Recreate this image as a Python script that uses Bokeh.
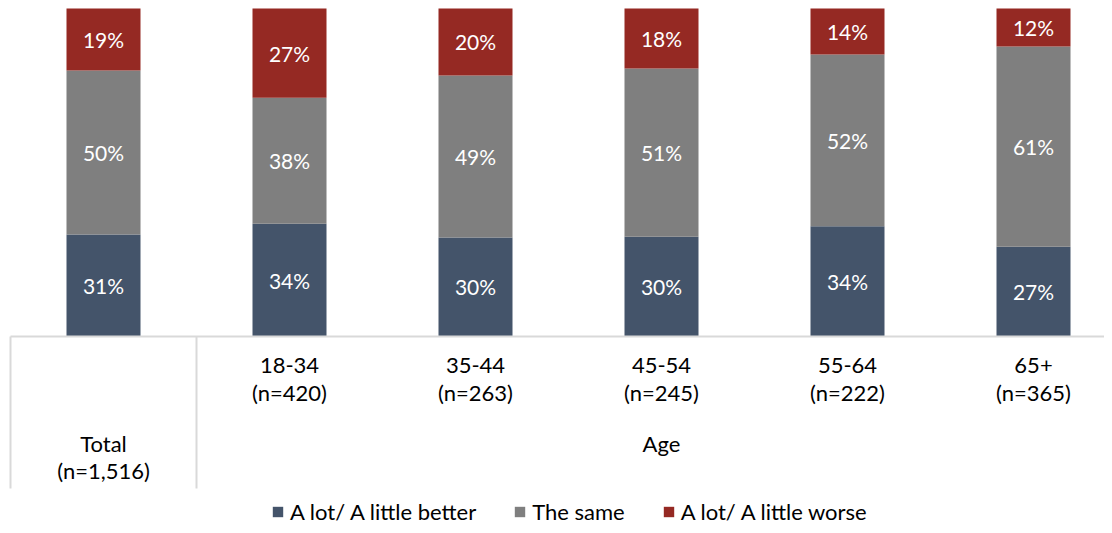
import numpy as np
from bokeh.plotting import figure
from bokeh.models import Range1d, ColumnDataSource, Legend, LegendItem
from bokeh.core.properties import value
from bokeh.embed import file_html
from bokeh.resources import INLINE

# ---- data ----
categories = ["Total", "18-34", "35-44", "45-54", "55-64", "65+"]
sample_sizes = ["(n=1,516)", "(n=420)", "(n=263)", "(n=245)", "(n=222)", "(n=365)"]
group_label = "Age"
better = [31.1, 34.4, 30.2, 30.4, 33.6, 27.4]
same = [50.0, 38.4, 49.4, 51.3, 52.4, 61.0]
worse = [18.9, 27.2, 20.4, 18.3, 14.0, 11.6]
series_names = ["A lot/ A little better", "The same", "A lot/ A little worse"]
colors = ["#44546A", "#7F7F7F", "#952923"]

FONT = value("Lato")
PXX = 186.0   # px per category
PXY = 3.28    # px per percent

x = np.arange(len(categories)) + 0.5
src = ColumnDataSource(dict(x=x, better=better, same=same, worse=worse))

p = figure(width=1104, height=525, output_backend="svg", toolbar_location=None,
           x_range=Range1d(-10 / PXX, 1094 / PXX),
           y_range=Range1d(-(525 - 336) / PXY, 100 + 8 / PXY),
           min_border=0, outline_line_color=None)
p.axis.visible = False
p.grid.visible = False
p.background_fill_color = None
p.border_fill_color = "white"

rs = p.vbar_stack(["better", "same", "worse"], x="x", width=74 / PXX, source=src,
                  color=colors, line_color=None)

# value labels
b = np.array(better); s = np.array(same); w = np.array(worse)
mids = [b / 2, b + s / 2, b + s + w / 2]
vals = [b, s, w]
for m, v in zip(mids, vals):
    p.text(x=x, y=m, text=[f"{round(t):d}%" for t in v], text_align="center",
           text_baseline="middle", text_color="white", text_font=FONT,
           text_font_size="21px")

# axis-like frame lines
n = len(categories)
p.segment(x0=[0], y0=[0], x1=[n], y1=[0], line_color="#D9D9D9", line_width=2)
p.segment(x0=[0, 1], y0=[0, 0], x1=[0, 1], y1=[-(488 - 336) / PXY] * 2,
          line_color="#D9D9D9", line_width=2)

# category labels
y_top = -(365 - 336) / PXY
y_bot = -(392 - 336) / PXY
y_low1 = -(443 - 336) / PXY
y_low2 = -(470 - 336) / PXY
p.text(x=list(x[1:]), y=[y_top] * (n - 1), text=categories[1:], text_align="center",
       text_baseline="middle", text_color="#000000", text_font=FONT, text_font_size="22px")
p.text(x=list(x[1:]), y=[y_bot] * (n - 1), text=sample_sizes[1:], text_align="center",
       text_baseline="middle", text_color="#000000", text_font=FONT, text_font_size="22px")
p.text(x=[x[0], x[0], (1 + n) / 2], y=[y_low1, y_low2, y_low1],
       text=[categories[0], sample_sizes[0], group_label], text_align="center",
       text_baseline="middle", text_color="#000000", text_font=FONT, text_font_size="22px")

legend = Legend(items=[LegendItem(label=nm, renderers=[r]) for nm, r in zip(series_names, rs)],
                orientation="horizontal", location=(271, 0), glyph_width=13, glyph_height=13,
                label_standoff=6, spacing=37, padding=0, margin=0, border_line_color=None,
                background_fill_alpha=0, label_text_font="Lato", label_text_font_size="22px",
                label_text_color="#000000", label_height=22)
p.add_layout(legend)

open("out.html", "w").write(file_html(p, INLINE))
